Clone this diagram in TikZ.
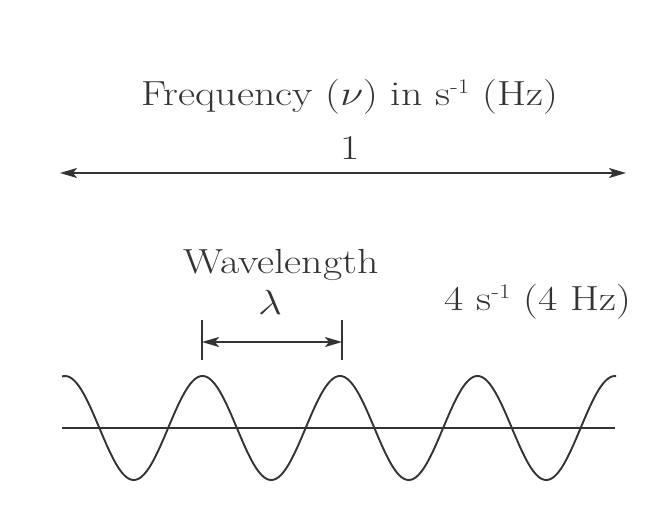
\RequirePackage{fix-cm}
\documentclass[tikz,border=0pt]{standalone}
\usetikzlibrary{arrows.meta}
\definecolor{ink}{HTML}{333333}
\newcommand{\wide}[1]{\scalebox{1.2}[1]{#1}}
\newcommand{\inv}{\textsuperscript{\scalebox{0.85}{-1}}}
\begin{document}
\begin{tikzpicture}[x=1bp,y=-1bp,
  lbl/.style={text=ink,font=\fontsize{35}{40}\selectfont,inner sep=0pt},
  ln/.style={draw=ink,line width=1.9bp},
  arr/.style={ln,{Stealth[length=17bp,width=10bp,inset=4bp]}-{Stealth[length=17bp,width=10bp,inset=4bp]}}]
\useasboundingbox (0,0) rectangle (659,512);
\node[lbl] (title) at (350,97) {\wide{Frequency ($\nu$) in s\inv{} (Hz)}};
\node[lbl] (one) at (350,148) {\wide{1}};
\coordinate (L) at (60,173);
\coordinate (R) at (626,173);
\draw[arr] (L) -- (R);
\node[lbl] (wl) at (281,265) {\wide{Wavelength}};
\node[lbl] (lam) at (270,302) {\wide{$\lambda$}};
\node[lbl] (hz) at (538,302) {\wide{4 s\inv{} (4 Hz)}};
\coordinate (b1t) at (202,320); \coordinate (b1b) at (202,360);
\coordinate (b2t) at (342,320); \coordinate (b2b) at (342,360);
\draw[ln] (b1t) -- (b1b);
\draw[ln] (b2t) -- (b2b);
\coordinate (a1) at (202,342); \coordinate (a2) at (342,342);
\draw[arr] (a1) -- (a2);
\coordinate (h1) at (62,428); \coordinate (h2) at (615,428);
\draw[ln] (h1) -- (h2);
\draw[ln] plot[domain=62:616,samples=300,smooth] (\x,{428-52*cos((\x-65)/137.5*360)});
\end{tikzpicture}
\end{document}
